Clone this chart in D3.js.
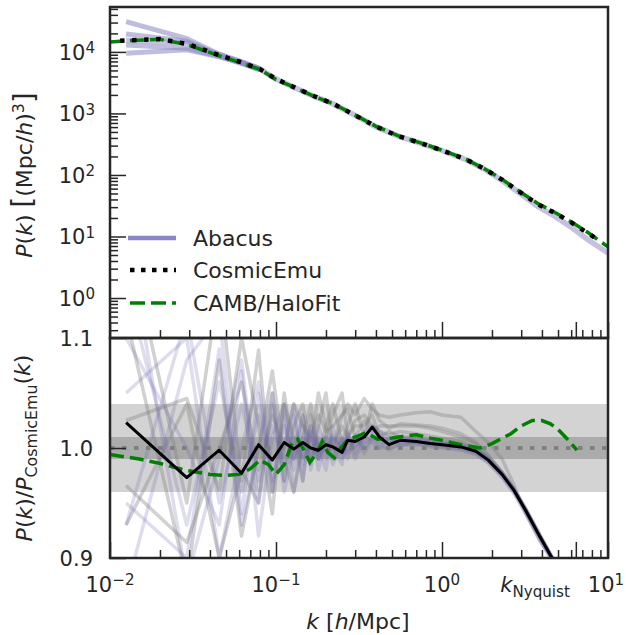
<!DOCTYPE html>
<meta charset='utf-8'>
<style>
  body { margin: 0; background: #fff; }
  text { font-family: 'DejaVu Sans', sans-serif; fill: #262626; }
</style>
<body>
<div class="chart"></div>
<script src="https://cdnjs.cloudflare.com/ajax/libs/d3/7.8.5/d3.min.js"></script>
<script>

// ---- top panel data: P(k) in (Mpc/h)^3 ----
var emuK  = [0.0115, 0.02, 0.029, 0.0455, 0.062, 0.08, 0.1, 0.13, 0.17, 0.22, 0.3, 0.4, 0.55, 0.75, 1.0, 1.4, 1.8, 2.3, 3.0, 3.8, 4.8, 6.0, 7.5, 8.5];
var emuP  = [15200, 16200, 13500, 8850, 6760, 5250, 3630, 2630, 1900, 1445, 933, 612, 425, 327, 251, 178, 126, 84, 51, 33, 24, 17, 11.5, 9.2];

var cambK = [0.01, 0.0125, 0.02, 0.029, 0.0455, 0.062, 0.08, 0.1, 0.13, 0.17, 0.22, 0.3, 0.4, 0.55, 0.75, 1.0, 1.4, 1.8, 2.3, 3.0, 3.8, 4.8, 6.0, 7.5, 10];
var cambP = [14500, 15200, 16000, 13200, 8650, 6600, 5200, 3550, 2640, 1880, 1440, 940, 617, 430, 330, 253, 179, 126, 85, 52, 34, 24.6, 17.3, 11.8, 6.8];

var abacusK  = [0.0125, 0.029, 0.0455, 0.062, 0.08, 0.1, 0.13, 0.17, 0.22, 0.3, 0.4, 0.55, 0.75, 1.0, 1.4, 1.8, 2.3, 3.0, 3.8, 4.8, 6.0, 7.5, 10];
var abacusP1 = [15500, 14000, 9000, 6800, 5300, 3620, 2620, 1890, 1440, 932, 610, 424, 326, 250, 177, 124, 81.5, 48.5, 30.5, 21.2, 14.2, 9.0, 5.4];
// low-k scatter of the other boxes (they join the main curve)
var abacusLowK = [0.0125, 0.029, 0.0455, 0.062, 0.08];
var abacusP2 = [31000, 16500, 9200, 6900, 5350];
var abacusP3 = [19600, 15000, 8700, 6700, 5200];
var abacusP4 = [13000, 11500, 8500, 6600, 5150];
var abacusP5 = [9500, 10800, 8300, 6500, 5100];

// ---- bottom panel data: P(k)/P_CosmicEmu(k) ----
var ratioK = [0.0125, 0.029, 0.0455, 0.062, 0.0785, 0.095, 0.112, 0.128, 0.145, 0.162, 0.18, 0.2, 0.22, 0.25, 0.27, 0.3, 0.34, 0.38, 0.42, 0.48, 0.56, 0.7, 0.85, 1.0, 1.3, 1.6, 1.9, 2.3, 2.7, 3.2, 3.9, 4.6, 5.5];
var ratioMean = [1.023, 0.973, 0.998, 0.977, 1.003, 0.989, 1.005, 0.999, 1.005, 1.000, 0.998, 1.003, 1.001, 0.996, 1.007, 1.006, 1.010, 1.019, 1.010, 1.003, 1.007, 1.006, 1.004, 1.003, 1.001, 0.997, 0.989, 0.976, 0.962, 0.943, 0.919, 0.900, 0.870];

var purple1 = [1.15, 0.93, 1.06, 0.96, 1.03, 0.98, 1.02, 0.99, 1.01, 0.995, 1.005, 0.99, 1.01, 1.0, 1.012, 1.002, 1.01, 1.015, 1.008, 1.004, 1.008, 1.007, 1.005, 1.004, 1.002, 0.998, 0.99, 0.977, 0.963, 0.944, 0.92, 0.901, 0.87];
var purple2 = [0.93, 1.12, 0.95, 1.04, 0.97, 1.02, 0.985, 1.01, 0.99, 1.01, 0.99, 1.005, 0.995, 1.008, 0.998, 1.01, 1.0, 1.01, 1.005, 0.998, 1.004, 1.004, 1.002, 1.001, 0.999, 0.995, 0.987, 0.974, 0.96, 0.941, 0.917, 0.898, 0.868];
var purple3 = [0.87, 1.08, 1.12, 0.94, 1.05, 0.96, 1.03, 0.98, 1.02, 0.985, 1.01, 0.995, 1.012, 0.99, 1.005, 1.0, 1.015, 1.02, 1.012, 1.006, 1.01, 1.009, 1.007, 1.005, 1.003, 0.999, 0.991, 0.978, 0.964, 0.945, 0.921, 0.902, 0.872];
var purple4 = [1.2, 0.88, 0.99, 1.08, 0.95, 1.04, 0.97, 1.03, 0.985, 1.015, 0.99, 1.01, 0.985, 1.005, 0.995, 1.008, 1.004, 1.012, 1.0, 1.0, 1.003, 1.003, 1.001, 1.0, 0.998, 0.994, 0.986, 0.973, 0.959, 0.94, 0.916, 0.897, 0.867];
var purple5 = [1.05, 1.1, 0.9, 1.0, 1.06, 0.97, 1.0, 1.04, 0.97, 1.02, 1.0, 0.98, 1.02, 0.995, 1.01, 0.99, 1.008, 1.02, 1.015, 1.008, 1.006, 1.006, 1.004, 1.003, 1.001, 0.997, 0.989, 0.976, 0.962, 0.943, 0.919, 0.9, 0.87];
var purple6 = [0.95, 0.9, 1.09, 0.93, 1.0, 1.05, 0.96, 1.0, 1.03, 0.98, 1.02, 1.0, 0.99, 1.01, 0.99, 1.012, 0.995, 1.008, 1.01, 1.002, 1.009, 1.008, 1.006, 1.004, 1.002, 0.998, 0.99, 0.976, 0.962, 0.943, 0.92, 0.9, 0.87];
var purple7 = [1.1, 1.0, 0.93, 1.07, 0.92, 1.01, 1.04, 0.96, 1.0, 1.02, 0.98, 1.01, 1.0, 0.985, 1.015, 0.995, 1.012, 1.005, 1.0, 1.01, 1.002, 1.005, 1.003, 1.002, 1.0, 0.996, 0.988, 0.975, 0.961, 0.942, 0.918, 0.899, 0.869];

var gray1 = [0.966, 0.914, 1.0, 1.06, 0.98, 1.03, 1.0, 1.04, 1.02, 1.01, 1.03, 1.015, 1.02, 1.03, 1.04, 1.03, 1.045, 1.035, 1.03, 1.028, 1.03, 1.032, 1.033, 1.03, 1.028, 1.015, 1.005, 0.99, 0.967, 0.94, 0.915, 0.9, 0.87];
var gray2 = [1.025, 1.045, 0.962, 1.1, 1.02, 0.94, 1.05, 0.99, 1.03, 0.99, 1.02, 1.05, 1.0, 1.02, 1.01, 1.025, 1.03, 1.02, 1.015, 1.012, 1.015, 1.013, 1.011, 1.009, 1.006, 1.0, 0.99, 0.977, 0.962, 0.943, 0.919, 0.9, 0.87];
var gray3 = [1.2, 0.95, 1.15, 0.97, 1.089, 0.96, 1.04, 1.01, 0.97, 1.03, 1.0, 1.01, 1.03, 1.05, 1.01, 1.02, 1.02, 1.03, 1.01, 1.015, 1.01, 1.01, 1.008, 1.006, 1.004, 0.999, 0.99, 0.977, 0.962, 0.943, 0.919, 0.9, 0.87];
var gray4 = [0.93, 1.04, 0.9, 0.98, 0.95, 1.05, 0.97, 1.02, 1.04, 1.0, 1.05, 1.02, 1.0, 1.03, 1.035, 1.01, 1.025, 1.015, 1.02, 1.02, 1.02, 1.02, 1.018, 1.015, 1.01, 1.004, 0.993, 0.978, 0.963, 0.944, 0.92, 0.9, 0.87];
var gray5 = [1.12, 0.88, 1.08, 0.92, 1.0, 1.07, 0.99, 0.96, 1.01, 1.04, 0.99, 1.02, 1.04, 1.005, 1.02, 1.04, 1.01, 1.04, 1.025, 1.018, 1.022, 1.021, 1.02, 1.018, 1.013, 1.005, 0.993, 0.978, 0.963, 0.944, 0.92, 0.9, 0.87];

var cambRatioK = [0.01, 0.015, 0.02, 0.028, 0.04, 0.05, 0.06, 0.07, 0.08, 0.09, 0.1, 0.112, 0.125, 0.135, 0.145, 0.16, 0.175, 0.19, 0.205, 0.225, 0.245, 0.27, 0.3, 0.35, 0.41, 0.5, 0.6, 0.7, 0.85, 1.0, 1.3, 1.7, 2.0, 2.6, 3.0, 3.5, 4.0, 4.5, 5.0, 5.7, 6.5];
var cambRatio  = [0.994, 0.99, 0.986, 0.98, 0.976, 0.975, 0.976, 0.981, 0.989, 0.985, 0.976, 0.985, 1.004, 1.008, 1.0, 0.987, 0.995, 1.006, 0.996, 0.991, 1.0, 1.007, 1.01, 1.014, 1.008, 1.009, 1.011, 1.012, 1.009, 1.007, 1.003, 1.0, 1.004, 1.013, 1.02, 1.025, 1.025, 1.022, 1.017, 1.008, 0.998];

var bandOuter = [0.96, 1.04];
var bandInner = [0.99, 1.01];
var kNyquist = 6.4;

var legendLabels = ['Abacus', 'CosmicEmu', 'CAMB/HaloFit'];
var topExps = [0, 1, 2, 3, 4];
var xExps = [-2, -1, 0, 1];
var ratioTicks = [0.9, 1.0, 1.1];

// ---- layout ----
var W = 626, H = 635;
var left = 110, right = 608, topY = 7, midY = 338, botY = 558;

var svg = d3.select('.chart').append('svg')
	.attr('width', W)
	.attr('height', H);

var x = d3.scaleLog().domain([0.01, 10]).range([left, right]);
var yTop = d3.scaleLog().domain([0.224, 53700]).range([midY, topY]);
var yBot = d3.scaleLinear().domain([0.9, 1.1]).range([botY, midY]);

var defs = svg.append('defs');
defs.append('clipPath').attr('id', 'clipTop').append('rect')
	.attr('x', left).attr('y', topY).attr('width', right - left).attr('height', midY - topY);
defs.append('clipPath').attr('id', 'clipBot').append('rect')
	.attr('x', left).attr('y', midY).attr('width', right - left).attr('height', botY - midY);

function lineFor(y) {
	return d3.line().x(function(d){ return x(d[0]); }).y(function(d){ return y(d[1]); });
}
var lineTop = lineFor(yTop), lineBot = lineFor(yBot);

var abacusColor = '#8b86c3';

// ---- top panel ----
var gTop = svg.append('g').attr('clip-path', 'url(#clipTop)');

[abacusP2, abacusP3, abacusP4, abacusP5].forEach(function(p){
	gTop.append('path')
		.attr('d', lineTop(d3.zip(abacusLowK, p)))
		.attr('fill', 'none').attr('stroke', abacusColor)
		.attr('stroke-width', 5).attr('stroke-opacity', 0.55);
});
gTop.append('path')
	.attr('d', lineTop(d3.zip(abacusK, abacusP1)))
	.attr('fill', 'none').attr('stroke', abacusColor)
	.attr('stroke-width', 5.5).attr('stroke-opacity', 0.5);

gTop.append('path')
	.attr('d', lineTop(d3.zip(cambK, cambP)))
	.attr('fill', 'none').attr('stroke', 'green')
	.attr('stroke-width', 3.5).attr('stroke-dasharray', '14,6');

gTop.append('path')
	.attr('d', lineTop(d3.zip(emuK, emuP)))
	.attr('fill', 'none').attr('stroke', 'black')
	.attr('stroke-width', 4.5).attr('stroke-dasharray', '4.5,7.5');

// ---- bottom panel ----
var gBot = svg.append('g').attr('clip-path', 'url(#clipBot)');

gBot.append('rect')
	.attr('x', left).attr('width', right - left)
	.attr('y', yBot(bandOuter[1])).attr('height', yBot(bandOuter[0]) - yBot(bandOuter[1]))
	.attr('fill', '#d3d3d3');
gBot.append('rect')
	.attr('x', left).attr('width', right - left)
	.attr('y', yBot(bandInner[1])).attr('height', yBot(bandInner[0]) - yBot(bandInner[1]))
	.attr('fill', '#ababab');

[gray1, gray2, gray3, gray4, gray5].forEach(function(r){
	gBot.append('path')
		.attr('d', lineBot(d3.zip(ratioK, r)))
		.attr('fill', 'none').attr('stroke', '#808080')
		.attr('stroke-width', 3.5).attr('stroke-opacity', 0.36)
		.attr('stroke-linejoin', 'round');
});
[purple1, purple2, purple3, purple4, purple5, purple6, purple7].forEach(function(r){
	gBot.append('path')
		.attr('d', lineBot(d3.zip(ratioK, r)))
		.attr('fill', 'none').attr('stroke', '#6a64ad')
		.attr('stroke-width', 3.5).attr('stroke-opacity', 0.22)
		.attr('stroke-linejoin', 'round');
});

gBot.append('line')
	.attr('x1', left).attr('x2', right)
	.attr('y1', yBot(1)).attr('y2', yBot(1))
	.attr('stroke', '#808080').attr('stroke-width', 4)
	.attr('stroke-dasharray', '4.5,7.5');

gBot.append('path')
	.attr('d', lineBot(d3.zip(cambRatioK, cambRatio)))
	.attr('fill', 'none').attr('stroke', 'green')
	.attr('stroke-width', 3.5).attr('stroke-dasharray', '14,6');

gBot.append('path')
	.attr('d', lineBot(d3.zip(ratioK, ratioMean)))
	.attr('fill', 'none').attr('stroke', 'black')
	.attr('stroke-width', 3).attr('stroke-linejoin', 'round');

// ---- axes (inward ticks) ----
function styleAxis(g) {
	g.select('.domain').remove();
	g.selectAll('line').attr('stroke', '#262626').attr('stroke-width', 1.5);
}
var xMajor = [0.01, 0.1, 1, 10, kNyquist];
var xMinor = x.ticks().filter(function(v){ return Math.abs(Math.log10(v) - Math.round(Math.log10(v))) > 1e-6; });

[midY, botY].forEach(function(yy){
	svg.append('g').attr('transform', 'translate(0,' + yy + ')')
		.call(d3.axisBottom(x).tickValues(xMajor).tickSize(-16).tickFormat(''))
		.call(styleAxis);
	svg.append('g').attr('transform', 'translate(0,' + yy + ')')
		.call(d3.axisBottom(x).tickValues(xMinor).tickSize(-8).tickFormat(''))
		.call(styleAxis);
});

var yMajor = topExps.map(function(e){ return Math.pow(10, e); });
var yMinor = yTop.ticks().filter(function(v){ return Math.abs(Math.log10(v) - Math.round(Math.log10(v))) > 1e-6; });
svg.append('g').attr('transform', 'translate(' + left + ',0)')
	.call(d3.axisLeft(yTop).tickValues(yMajor).tickSize(-16).tickFormat(''))
	.call(styleAxis);
svg.append('g').attr('transform', 'translate(' + left + ',0)')
	.call(d3.axisLeft(yTop).tickValues(yMinor).tickSize(-8).tickFormat(''))
	.call(styleAxis);
svg.append('g').attr('transform', 'translate(' + left + ',0)')
	.call(d3.axisLeft(yBot).tickValues(ratioTicks).tickSize(-16).tickFormat(''))
	.call(styleAxis);

// frames
[[topY, midY], [midY, botY]].forEach(function(p){
	svg.append('rect')
		.attr('x', left).attr('y', p[0])
		.attr('width', right - left).attr('height', p[1] - p[0])
		.attr('fill', 'none').attr('stroke', '#262626').attr('stroke-width', 2.5);
});

// ---- tick labels ----
function powLabel(t, e) {
	t.append('tspan').text('10');
	t.append('tspan').attr('dy', '-0.45em').attr('font-size', '0.72em')
		.text(e < 0 ? '\u2212' + (-e) : String(e));
}

topExps.forEach(function(e){
	var t = svg.append('text')
		.attr('x', 95).attr('y', yTop(Math.pow(10, e)) + 8)
		.attr('text-anchor', 'end').attr('font-size', 21);
	powLabel(t, e);
});

ratioTicks.forEach(function(v){
	svg.append('text')
		.attr('x', 93).attr('y', yBot(v) + 8)
		.attr('text-anchor', 'end').attr('font-size', 21)
		.text(d3.format('.1f')(v));
});

xExps.forEach(function(e){
	var t = svg.append('text')
		.attr('x', x(Math.pow(10, e)) + (e === 1 ? -2 : 0)).attr('y', 592)
		.attr('text-anchor', 'middle').attr('font-size', 21);
	powLabel(t, e);
});

var nyq = svg.append('text')
	.attr('x', x(kNyquist) - 6).attr('y', 592)
	.attr('text-anchor', 'end').attr('font-size', 21);
nyq.append('tspan').attr('font-style', 'italic').text('k');
nyq.append('tspan').attr('dy', '0.3em').attr('font-size', '0.72em').text('Nyquist');

// ---- axis labels ----
var xl = svg.append('text')
	.attr('x', 358).attr('y', 629)
	.attr('text-anchor', 'middle').attr('font-size', 22);
xl.append('tspan').attr('font-style', 'italic').text('k');
xl.append('tspan').text(' [');
xl.append('tspan').attr('font-style', 'italic').text('h');
xl.append('tspan').text('/Mpc]');

var yl = svg.append('text')
	.attr('transform', 'translate(32,175) rotate(-90)')
	.attr('text-anchor', 'middle').attr('font-size', 22);
yl.append('tspan').attr('font-style', 'italic').text('P');
yl.append('tspan').text('(');
yl.append('tspan').attr('font-style', 'italic').text('k');
yl.append('tspan').text(')  ');
yl.append('tspan').attr('font-size', '1.25em').text('[');
yl.append('tspan').text('(Mpc/');
yl.append('tspan').attr('font-style', 'italic').text('h');
yl.append('tspan').text(')');
yl.append('tspan').attr('dy', '-0.5em').attr('font-size', '0.72em').text('3');
yl.append('tspan').attr('dy', '0.35em').attr('font-size', '1.25em').text(']');

var yl2 = svg.append('text')
	.attr('transform', 'translate(32,448) rotate(-90)')
	.attr('text-anchor', 'middle').attr('font-size', 22);
yl2.append('tspan').attr('font-style', 'italic').text('P');
yl2.append('tspan').text('(');
yl2.append('tspan').attr('font-style', 'italic').text('k');
yl2.append('tspan').text(')/');
yl2.append('tspan').attr('font-style', 'italic').text('P');
yl2.append('tspan').attr('dy', '0.3em').attr('font-size', '0.72em').text('CosmicEmu');
yl2.append('tspan').attr('dy', '-0.3em').text('(');
yl2.append('tspan').attr('font-style', 'italic').text('k');
yl2.append('tspan').text(')');

// ---- legend ----
var legendY = [238, 270, 303];
var leg = svg.append('g');
leg.append('line').attr('x1', 128).attr('x2', 176).attr('y1', legendY[0]).attr('y2', legendY[0])
	.attr('stroke', abacusColor).attr('stroke-width', 4.5);
leg.append('line').attr('x1', 130).attr('x2', 176).attr('y1', legendY[1]).attr('y2', legendY[1])
	.attr('stroke', 'black').attr('stroke-width', 4.5).attr('stroke-dasharray', '4.5,6.5');
leg.append('line').attr('x1', 130).attr('x2', 176).attr('y1', legendY[2]).attr('y2', legendY[2])
	.attr('stroke', 'green').attr('stroke-width', 3.5).attr('stroke-dasharray', '15,6');
legendLabels.forEach(function(l, i){
	leg.append('text')
		.attr('x', 193).attr('y', legendY[i] + 8)
		.attr('font-size', 22)
		.text(l);
});

</script>
</body>
